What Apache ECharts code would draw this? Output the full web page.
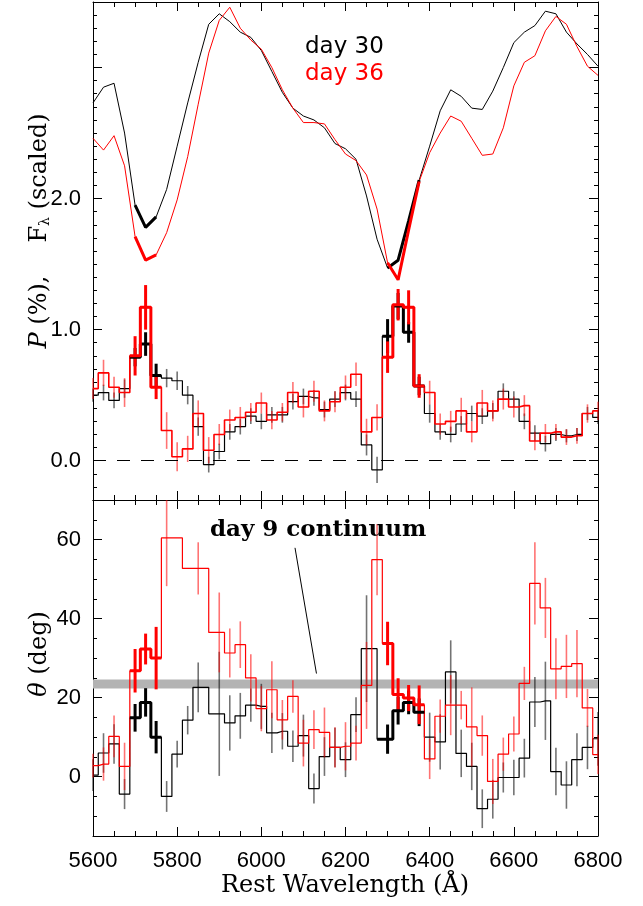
<!DOCTYPE html>
<html><head><meta charset="utf-8">
<script src="https://cdn.jsdelivr.net/npm/echarts@6/dist/echarts.min.js"></script>
<style>html,body{margin:0;padding:0;background:#fff}#c{width:643px;height:906px}</style>
</head><body><div id="c"></div>
<script>
// ---------------- data ----------------
const wave = [5600,5625,5650,5675,5700,5725,5750,5775,5800,5825,5850,5875,5900,5925,5950,5975,6000,6025,6050,6075,6100,6125,6150,6175,6200,6225,6250,6275,6300,6325,6350,6375,6400,6425,6450,6475,6500,6525,6550,6575,6600,6625,6650,6675,6700,6725,6750,6775,6800];

const fluxDay30 = [2.73,2.85,2.88,2.50,1.95, 1.78,1.86,2.07,2.40, 2.73,3.04,3.33,3.41, 3.35,3.27,3.23,3.13, 2.97,2.81,2.69,2.63, 2.60,2.54,2.42,2.38, 2.30,2.02,1.69,1.47, 1.53,1.83,2.14,2.40, 2.67,2.83,2.78,2.69, 2.68,2.82,3.00,3.19, 3.27,3.32,3.43,3.41, 3.27,3.18,3.10,3.01];
const fluxDay36 = [2.46,2.37,2.48,2.25,1.71, 1.53,1.57,1.74,1.99, 2.32,2.72,3.11,3.36, 3.46,3.30,3.21,3.14, 3.00,2.83,2.69,2.58, 2.58,2.57,2.45,2.34, 2.29,2.18,1.92,1.51, 1.38,1.76,2.13,2.35, 2.50,2.63,2.59,2.46, 2.33,2.34,2.54,2.86, 3.04,3.09,3.28,3.39, 3.33,3.16,3.01,2.94];

const polDay30 = [0.50,0.52,0.46,0.55,0.79, 0.89,0.65,0.63,0.61, 0.50,0.26,-0.03,0.07, 0.22,0.26,0.34,0.30, 0.35,0.35,0.45,0.49, 0.48,0.39,0.47,0.52, 0.47,0.12,-0.07,0.95, 1.18,0.98,0.57,0.36, 0.22,0.20,0.28,0.36, 0.34,0.38,0.53,0.47, 0.30,0.21,0.13,0.20, 0.19,0.20,0.36,0.33];
const polErrDay30 = [0.05,0.06,0.06,0.07,0.07, 0.09,0.09,0.07,0.07, 0.07,0.07,0.06,0.06, 0.06,0.06,0.06,0.06, 0.06,0.06,0.06,0.06, 0.06,0.06,0.06,0.06, 0.06,0.08,0.10,0.13, 0.10,0.08,0.07,0.07, 0.06,0.06,0.06,0.06, 0.06,0.06,0.06,0.06, 0.06,0.06,0.06,0.05, 0.05,0.05,0.05,0.05];
const polDay36 = [0.55,0.67,0.56,0.52,0.80, 1.17,0.56,0.23,0.03, 0.09,0.36,0.08,0.20, 0.31,0.33,0.37,0.44, 0.31,0.37,0.52,0.41, 0.53,0.38,0.45,0.56, 0.66,0.22,0.33,0.79, 1.19,1.17,0.57,0.52, 0.28,0.30,0.38,0.22, 0.44,0.38,0.47,0.41, 0.42,0.15,0.21,0.22, 0.18,0.19,0.36,0.38];
const polErrDay36 = [0.08,0.10,0.08,0.11,0.15, 0.17,0.09,0.14,0.11, 0.10,0.10,0.10,0.08, 0.08,0.08,0.07,0.08, 0.07,0.07,0.08,0.08, 0.08,0.08,0.08,0.09, 0.09,0.10,0.10,0.12, 0.12,0.13,0.09,0.09, 0.08,0.08,0.10,0.08, 0.10,0.08,0.08,0.08, 0.08,0.07,0.07,0.06, 0.06,0.06,0.07,0.07];

const thetaDay30 = [0.4,6.0,8.3,-4.4,14.9, 18.8,10.0,-5.0,5.7, 14.3,22.6,null,15.9, 13.6,15.4,18.1,17.8, 11.1,11.5,7.7,10.4, -3.0,5.1,7.4,4.3, 15.7,32.4,null,9.5, 16.7,18.8,16.3,10.0, 8.8,26.5,5.9,2.6, -8.1,-5.7,-0.2,-0.2, 4.7,18.9,19.2,1.3, -2.1,4.3,7.4,9.6];
const thetaErrDay30 = [4,5,5,3.8,3.5, 3.6,4.1,3.9,3.4, 3.6,6.3,null,15.7, 7,5.8,4.2,5.7, 5.1,4.6,4.0,5.3, 3.8,4.9,5.0,4.4, 4.4,13.5,null,3.7, 3.5,3.0,3.5,6.2, 7,8,6,6, 4.9,4.9,3.8,4.5, 4.9,6.3,9.9,6, 6,6.7,5.5,6.8];
const thetaDay36 = [2.8,3.2,10.2,2.6,26.8, 32.3,30.0,60.4,null, null,52.7,null,36.5, 31.3,33.4,25.0,17.2, 22.0,14.4,20.3,8.5, 11.9,11.2,7.4,7.7, 8.5,23.1,54.9,33.7, 20.8,19.9,18.2,4.5, 15.3,18.1,18.1,12.6, 10.4,-1.2,5.7,10.8, 23.6,48.9,42.7,27.3, 27.9,28.6,17.4,5.6];
const thetaErrDay36 = [3,4.2,5.3,6,5.5, 3.9,7.9,12.2,null, null,6.6,null,10.1, 6.2,5.9,6,5.7, 7.2,5,4.1,5.9, 4.9,6.3,5.1,6.1, 4.4,11,9,5.5, 4.1,3.3,4.9,5.1, 4.2,7.6,3.6,10, 5.1,5.7,4.2,4.4, 4.2,10.4,7.6,7.7, 8,8.5,4.8,5];

const highlightRanges = [[5700,5750],[6300,6375]];   // features drawn thick
const continuumBand = [22.3, 24.6];                   // day 9 continuum angle (deg)
const annotationLine = [[6080,57.9],[6131,26.1]];
const pTicks = [0,1,2,3];
const pLabels = [0,1,2];
const thetaTicks = [0,20,40,60];
const thetaLabels = [0,20,40,60];

// ---------------- helpers ----------------
const RED = '#ff0000', BLK = '#000000';
const inHL = w => highlightRanges.some(r => w >= r[0] && w <= r[1]);
const pts = vals => wave.map((w,i)=> vals[i]==null ? null : [w, vals[i]]).filter(Boolean);
const errPts = (vals, errs) => wave.map((w,i)=> vals[i]==null ? null : [w, vals[i], errs[i], inHL(w)?1:0]).filter(Boolean);
function thickStep(vals) {
  const p = pts(vals); const out = [];
  highlightRanges.forEach(r => {
    const idx = p.map((q,i)=>i).filter(i => p[i][0] >= r[0] && p[i][0] <= r[1]);
    if (!idx.length) return;
    const a = idx[0], b = idx[idx.length-1];
    const seg = [];
    const eL = a>0 ? (p[a-1][0]+p[a][0])/2 : p[a][0];
    const eR = b<p.length-1 ? (p[b][0]+p[b+1][0])/2 : p[b][0];
    seg.push([eL, p[a][1]]);
    idx.forEach(i => seg.push(p[i]));
    seg.push([eR, p[b][1]]);
    out.push(seg);
  });
  return out;
}
function thickLine(vals) {
  return highlightRanges.map(r => wave.map((w,i)=>[w, vals[i]]).filter(q => q[0]>=r[0] && q[0]<=r[1]));
}
function errRender(color) {
  return function (params, api) {
    const x = api.value(0), v = api.value(1), e = api.value(2), t = api.value(3);
    const p1 = api.coord([x, v - e]), p2 = api.coord([x, v + e]);
    const cs = params.coordSys;
    const top = cs.y, bot = cs.y + cs.height;
    const c = y => Math.min(bot, Math.max(top, y));
    return { type: 'line', shape: { x1: p1[0], y1: c(p1[1]), x2: p2[0], y2: c(p2[1]) },
      style: { stroke: color, lineWidth: t ? 3 : 1.6, opacity: t ? 1 : 0.55 } };
  };
}

const axCol = { color: '#000', width: 1 };
function xAx(grid, pos, labels) {
  return { type: 'value', gridIndex: grid, position: pos, min: 5600, max: 6800, interval: 200,
    axisLine: { show: true, onZero: false, lineStyle: axCol },
    axisTick: { show: true, inside: true, length: 9, lineStyle: axCol },
    minorTick: { show: true, splitNumber: 4, length: 5, lineStyle: axCol },
    splitLine: { show: false }, minorSplitLine: { show: false },
    axisLabel: { show: labels, margin: 14, fontFamily: 'Liberation Sans', fontSize: 22, color: '#000',
      formatter: v => String(v) } };
}
function yMinor(grid, pos, min, max, step) {
  return { type: 'value', gridIndex: grid, position: pos, min: min, max: max, interval: step,
    axisLine: { show: true, onZero: false, lineStyle: axCol },
    axisTick: { show: true, inside: true, length: 4, lineStyle: axCol },
    axisLabel: { show: false }, splitLine: { show: false } };
}
function yMajor(grid, pos, min, max, ticks, labels, fmt) {
  return { type: 'value', gridIndex: grid, position: pos, min: min, max: max,
    axisLine: { show: false },
    axisTick: { show: true, inside: true, length: 9, customValues: ticks, lineStyle: axCol },
    axisLabel: { show: pos === 'left', customValues: labels, formatter: fmt, margin: 12,
      fontFamily: 'Liberation Sans', fontSize: 22, color: '#000' },
    splitLine: { show: false } };
}

const series = [];
// ----- top panel: flux -----
series.push({ type: 'line', xAxisIndex: 0, yAxisIndex: 0, data: pts(fluxDay30), showSymbol: false, symbol: 'none',
  lineStyle: { color: BLK, width: 1 }, z: 3 });
series.push({ type: 'line', xAxisIndex: 0, yAxisIndex: 0, data: pts(fluxDay36), showSymbol: false, symbol: 'none',
  lineStyle: { color: RED, width: 1 }, z: 4 });
thickLine(fluxDay30).forEach(d => series.push({ type: 'line', xAxisIndex: 0, yAxisIndex: 0, data: d, symbol: 'none',
  lineStyle: { color: BLK, width: 3 }, z: 5 }));
thickLine(fluxDay36).forEach(d => series.push({ type: 'line', xAxisIndex: 0, yAxisIndex: 0, data: d, symbol: 'none',
  lineStyle: { color: RED, width: 3 }, z: 6 }));
// ----- top panel: polarization -----
series.push({ type: 'line', step: 'middle', xAxisIndex: 0, yAxisIndex: 0, data: pts(polDay30), symbol: 'none',
  lineStyle: { color: BLK, width: 1.2 }, z: 3,
  markLine: { silent: true, symbol: 'none', label: { show: false },
    lineStyle: { color: BLK, width: 1, type: [13, 11] }, data: [{ yAxis: 0 }] } });
series.push({ type: 'custom', xAxisIndex: 0, yAxisIndex: 0, data: errPts(polDay30, polErrDay30),
  renderItem: errRender(BLK), encode: { x: 0, y: 1 }, z: 3 });
series.push({ type: 'line', step: 'middle', xAxisIndex: 0, yAxisIndex: 0, data: pts(polDay36), symbol: 'none',
  lineStyle: { color: RED, width: 1.6 }, z: 4 });
series.push({ type: 'custom', xAxisIndex: 0, yAxisIndex: 0, data: errPts(polDay36, polErrDay36),
  renderItem: errRender(RED), encode: { x: 0, y: 1 }, z: 4 });
thickStep(polDay30).forEach(d => series.push({ type: 'line', step: 'middle', xAxisIndex: 0, yAxisIndex: 0, data: d,
  symbol: 'none', lineStyle: { color: BLK, width: 3 }, z: 5 }));
thickStep(polDay36).forEach(d => series.push({ type: 'line', step: 'middle', xAxisIndex: 0, yAxisIndex: 0, data: d,
  symbol: 'none', lineStyle: { color: RED, width: 3 }, z: 6 }));

// ----- bottom panel: position angle -----
series.push({ type: 'line', xAxisIndex: 2, yAxisIndex: 4, data: [], symbol: 'none', z: 1,
  markArea: { silent: true, itemStyle: { color: '#b3b3b3' }, data: [[{ yAxis: continuumBand[0] }, { yAxis: continuumBand[1] }]] },
  markLine: { silent: true, symbol: 'none', label: { show: false }, lineStyle: { color: BLK, width: 1, type: 'solid' },
    data: [[{ coord: annotationLine[0] }, { coord: annotationLine[1] }]] } });
series.push({ type: 'line', step: 'middle', xAxisIndex: 2, yAxisIndex: 4, data: pts(thetaDay30), symbol: 'none',
  lineStyle: { color: BLK, width: 1.2 }, z: 3 });
series.push({ type: 'custom', xAxisIndex: 2, yAxisIndex: 4, data: errPts(thetaDay30, thetaErrDay30),
  renderItem: errRender(BLK), encode: { x: 0, y: 1 }, z: 3 });
series.push({ type: 'line', step: 'middle', xAxisIndex: 2, yAxisIndex: 4, data: pts(thetaDay36), symbol: 'none',
  lineStyle: { color: RED, width: 1.2 }, z: 4 });
series.push({ type: 'custom', xAxisIndex: 2, yAxisIndex: 4, data: errPts(thetaDay36, thetaErrDay36),
  renderItem: errRender(RED), encode: { x: 0, y: 1 }, z: 4 });
thickStep(thetaDay30).forEach(d => series.push({ type: 'line', step: 'middle', xAxisIndex: 2, yAxisIndex: 4, data: d,
  symbol: 'none', lineStyle: { color: BLK, width: 3 }, z: 5 }));
thickStep(thetaDay36).forEach(d => series.push({ type: 'line', step: 'middle', xAxisIndex: 2, yAxisIndex: 4, data: d,
  symbol: 'none', lineStyle: { color: RED, width: 3 }, z: 6 }));

const serif = 'DejaVu Serif';
const tfs = 24;
const option = {
  animation: false,
  backgroundColor: '#fff',
  grid: [
    { left: 93, top: 2, width: 505, height: 498, containLabel: false, outerBoundsMode: 'none' },
    { left: 93, top: 500, width: 505, height: 336, containLabel: false, outerBoundsMode: 'none' }
  ],
  xAxis: [ xAx(0, 'bottom', false), xAx(0, 'top', false), xAx(1, 'bottom', true), xAx(1, 'top', false) ],
  yAxis: [
    yMinor(0, 'left', -0.3, 3.5, 0.1),
    yMajor(0, 'left', -0.3, 3.5, pTicks, pLabels, v => Number(v).toFixed(1)),
    yMinor(0, 'right', -0.3, 3.5, 0.1),
    yMajor(0, 'right', -0.3, 3.5, pTicks, pLabels, v => Number(v).toFixed(1)),
    yMinor(1, 'left', -15, 70, 5),
    yMajor(1, 'left', -15, 70, thetaTicks, thetaLabels, v => String(v)),
    yMinor(1, 'right', -15, 70, 5),
    yMajor(1, 'right', -15, 70, thetaTicks, thetaLabels, v => String(v))
  ],
  series: series,
  graphic: [
    { type: 'text', x: 305, y: 47, z: 100, style: { text: 'day 30', font: '23px "DejaVu Sans"', fill: BLK, align: 'left', verticalAlign: 'middle', textAlign: 'left', textVerticalAlign: 'middle' } },
    { type: 'text', x: 305, y: 74, z: 100, style: { text: 'day 36', font: '23px "DejaVu Sans"', fill: RED, align: 'left', verticalAlign: 'middle', textAlign: 'left', textVerticalAlign: 'middle' } },
    { type: 'text', x: 210, y: 530, z: 100, style: { text: 'day 9 continuum', font: 'bold 23px "DejaVu Serif"', fill: BLK, align: 'left', verticalAlign: 'middle', textAlign: 'left', textVerticalAlign: 'middle' } },
    { type: 'text', x: 345, y: 886, z: 100, style: { text: 'Rest Wavelength (Å)', font: '24px "DejaVu Serif"', fill: BLK, align: 'center', verticalAlign: 'middle', textAlign: 'center', textVerticalAlign: 'middle' } },
    { type: 'text', x: 40, y: 178, rotation: Math.PI / 2, z: 100, style: {
      text: '{a|F}{b|λ}{a| (scaled)}', align: 'center', verticalAlign: 'middle', textAlign: 'center', textVerticalAlign: 'middle',
      rich: { a: { fontFamily: serif, fontSize: tfs, fill: BLK, color: BLK, verticalAlign: 'middle' },
              b: { fontFamily: serif, fontSize: 14, fill: BLK, color: BLK, verticalAlign: 'bottom', padding: [10, 0, 0, 0] } } } },
    { type: 'text', x: 40, y: 312, rotation: Math.PI / 2, z: 100, style: {
      text: '{i|P}{a| (%),}', align: 'center', verticalAlign: 'middle', textAlign: 'center', textVerticalAlign: 'middle',
      rich: { a: { fontFamily: serif, fontSize: tfs, fill: BLK, color: BLK }, i: { fontFamily: serif, fontStyle: 'italic', fontSize: tfs, fill: BLK, color: BLK } } } },
    { type: 'text', x: 40, y: 654, rotation: Math.PI / 2, z: 100, style: {
      text: '{i|θ}{a| (deg)}', align: 'center', verticalAlign: 'middle', textAlign: 'center', textVerticalAlign: 'middle',
      rich: { a: { fontFamily: serif, fontSize: tfs, fill: BLK, color: BLK }, i: { fontFamily: serif, fontStyle: 'italic', fontSize: tfs, fill: BLK, color: BLK } } } }
  ]
};
const chart = echarts.init(document.getElementById('c'), null, { renderer: 'canvas', width: 643, height: 906 });
chart.setOption(option);
</script>
</body></html>
